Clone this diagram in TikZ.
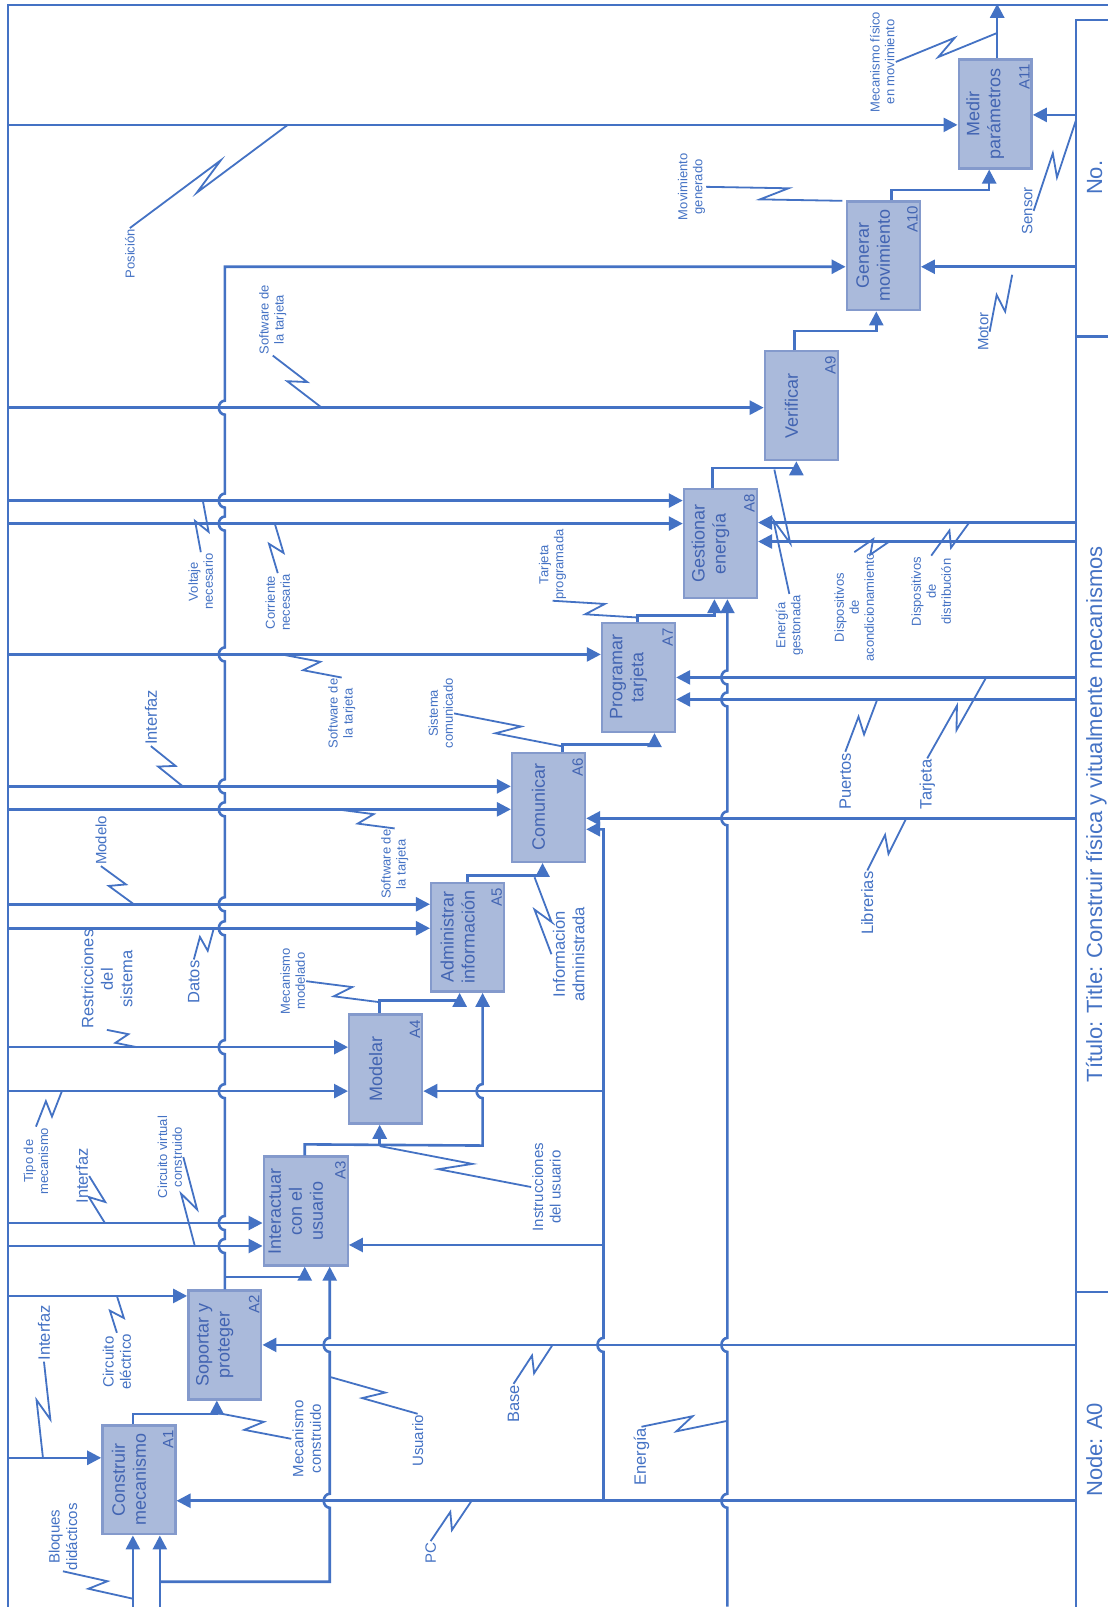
\documentclass[tikz,border=0pt]{standalone}
\usepackage{fontspec}
\setmainfont{Liberation Sans}
\usetikzlibrary{arrows.meta,calc}

\definecolor{idefblue}{RGB}{68,114,196}
\definecolor{boxfill}{RGB}{170,186,219}
\definecolor{boxedge}{RGB}{132,154,204}
\definecolor{boxink}{RGB}{66,100,178}

\tikzset{
  wire/.style={draw=idefblue, line width=2.6pt},
  flow/.style={wire, -{Triangle[length=14pt,width=14pt]}},
  feed/.style={wire, {Triangle[length=14pt,width=14pt]}-},
  zz/.style={draw=idefblue, line width=1.8pt,
    to path={-- ($(\tikztostart)!.6!(\tikztotarget)!7pt!90:(\tikztotarget)$)
             -- ($(\tikztostart)!.4!(\tikztotarget)!7pt!-90:(\tikztotarget)$)
             -- (\tikztotarget)}},
  box/.style={draw=boxedge, fill=boxfill, line width=2.4pt, minimum width=109pt, minimum height=73pt, inner sep=0pt},
  boxtxt/.style={text=boxink, font=\fontsize{18}{21}\selectfont, align=center, inner sep=0pt},
  boxnum/.style={text=boxink, font=\fontsize{15}{17}\selectfont, anchor=south east, inner sep=3pt, xshift=-3pt},
  lab/.style={text=idefblue, font=\fontsize{13}{15}\selectfont, align=center, inner sep=1pt},
  labm/.style={lab, font=\fontsize{15}{17.5}\selectfont},
  labb/.style={lab, font=\fontsize{16.5}{19.5}\selectfont},
  ttl/.style={text=idefblue, font=\fontsize{22}{24}\selectfont, anchor=base}
}

\begin{document}
\begin{tikzpicture}[x=1pt, y=1pt, rotate=90, transform shape]
    % sheet laid out lying down, then stood up
    \fill[white] (0,0) rectangle (1608,1109);

    % Frame and title strip
    \coordinate (ftop) at (0,1101);
    \coordinate (fbot) at (0,32);
    \draw[wire] (0,1101) -- (1603,1101) -- (1603,0);
    \draw[wire] (0,32) -- (1588,32) -- (1588,0);
    \draw[wire] (315,0) -- (315,32);
    \draw[wire] (1271,0) -- (1271,32);
    \node[ttl] (tNode) at (157,6) {Node: A0};
    \node[ttl] (tTitle) at (793,6) {Título: Title: Construir física y vitualmente mecanismos};
    \node[ttl] (tNo) at (1430,6) {No.};

    % Activities
    \node[box] (A1) at (127,970) {};
    \node[boxtxt] (A1t) at ([yshift=10pt]A1.center) {Construir\\mecanismo};
    \node[boxnum] (A1n) at (A1.south east) {A1};
    \node[box] (A2) at (262,884) {};
    \node[boxtxt] (A2t) at ([yshift=10pt]A2.center) {Soportar y\\proteger};
    \node[boxnum] (A2n) at (A2.south east) {A2};
    \node[box, minimum height=84pt] (A3) at (396,803) {};
    \node[boxtxt] (A3t) at ([yshift=10pt]A3.center) {Interactuar\\con el\\usuario};
    \node[boxnum] (A3n) at (A3.south east) {A3};
    \node[box] (A4) at (538,723) {};
    \node[boxtxt] (A4t) at ([yshift=10pt]A4.center) {Modelar};
    \node[boxnum] (A4n) at (A4.south east) {A4};
    \node[box] (A5) at (670,641) {};
    \node[boxtxt] (A5t) at ([yshift=10pt]A5.center) {Administrar\\información};
    \node[boxnum] (A5n) at (A5.south east) {A5};
    \node[box] (A6) at (800,560) {};
    \node[boxtxt] (A6t) at ([yshift=10pt]A6.center) {Comunicar};
    \node[boxnum] (A6n) at (A6.south east) {A6};
    \node[box] (A7) at (930,470) {};
    \node[boxtxt] (A7t) at ([yshift=10pt]A7.center) {Programar\\tarjeta};
    \node[boxnum] (A7n) at (A7.south east) {A7};
    \node[box] (A8) at (1064,388) {};
    \node[boxtxt] (A8t) at ([yshift=10pt]A8.center) {Gestionar\\energía};
    \node[boxnum] (A8n) at (A8.south east) {A8};
    \node[box] (A9) at (1202,307) {};
    \node[boxtxt] (A9t) at ([yshift=10pt]A9.center) {Verificar};
    \node[boxnum] (A9n) at (A9.south east) {A9};
    \node[box] (A10) at (1352,225) {};
    \node[boxtxt] (A10t) at ([yshift=10pt]A10.center) {Generar\\movimiento};
    \node[boxnum] (A10n) at (A10.south east) {A10};
    \node[box] (A11) at (1494,113) {};
    \node[boxtxt] (A11t) at ([yshift=10pt]A11.center) {Medir\\parámetros};
    \node[boxnum] (A11n) at (A11.south east) {A11};

    % Controls coming down from the frame
    \foreach \b/\s in {A1/22,A2/49,A3/-12,A3/-35,A4/22,A4/-22,A5/33,A5/9,A6/21,A6/-2,A7/23,A8/43,A8/20,A9/-2,A11/-11} {
        \coordinate (p) at ([xshift=\s pt]\b.north);
        \draw[feed] (p) -- (p |- ftop);
    }
    % Mechanisms coming up from the title strip
    \foreach \b/\s in {A1/-21,A2/0,A6/-11,A7/0,A7/-22,A8/21,A8/2,A10/-11,A11/-1} {
        \coordinate (p) at ([xshift=\s pt]\b.south);
        \draw[feed] (p) -- (p |- fbot);
    }

    % Inputs from the left edge
    \draw[flow] (0,976) -- ([yshift=6pt]A1.west);
    \draw[flow] (0,949) -- ([yshift=-21pt]A1.west);
    \draw[flow] (25,949) -- (25,779) \foreach \c in {106,262} {-- ({\c-7},779) arc[start angle=180, end angle=0, x radius=7, y radius=6]} -- ([yshift=-24pt]A3.west);
    \draw[flow] (0,381) \foreach \c in {106,262,789,908,930} {-- ({\c-7},381) arc[start angle=180, end angle=0, x radius=7, y radius=6]} -- ([yshift=-7pt]A8.west);

    % PC branches
    \draw[flow] (106,505) \foreach \c in {262} {-- ({\c-7},505) arc[start angle=180, end angle=0, x radius=7, y radius=6]} -- (778,505) -- ([xshift=-22pt]A6.south);
    \draw[flow] (362,505) -- ([xshift=-34pt]A3.south);
    \draw[flow] (516,505) -- ([xshift=-22pt]A4.south);

    % Outputs between activities
    \draw[flow] ([yshift=6pt]A1.east) -- ++(10,0) |- ([yshift=8pt]A2.west);
    \draw[flow] (A2.east) \foreach \c in {361,384,516,560,679,703,798,821,953,1084,1107,1200} {-- ({\c-7},884) arc[start angle=180, end angle=0, x radius=7, y radius=6]} -- (1341,884) -- ([xshift=-11pt]A10.north);
    \draw[flow] (330,884) |- ([yshift=1pt]A3.west);
    \draw[flow] ([yshift=1pt]A3.east) -- ++(11,0) -- (461.5,626) \foreach \c in {516} {-- ({\c-7},626) arc[start angle=180, end angle=0, x radius=7, y radius=6]} -- ([yshift=-15pt]A5.west);
    \draw[flow] (461.5,729) -- ([yshift=6pt]A4.west);
    \draw[flow] ([yshift=6pt]A4.east) -- ++(13,0) |- ([yshift=8pt]A5.west);
    \draw[flow] (A5.east) -- ++(6,0) |- ([yshift=6pt]A6.west);
    \draw[flow] ([yshift=-14pt]A6.east) -- ++(7,0) |- ([yshift=-16pt]A7.west);
    \draw[flow] ([yshift=1pt]A7.east) -- ++(6,0) |- ([yshift=6pt]A8.west);
    \draw[flow] ([yshift=8pt]A8.east) -- ++(20,0) |- ([yshift=5pt]A9.west);
    \draw[flow] ([yshift=7pt]A9.east) -- ++(19,0) |- ([yshift=7pt]A10.west);
    \draw[flow] ([yshift=-8pt]A10.east) -- ++(10,0) |- ([yshift=6pt]A11.west);
    \draw[flow] ([yshift=-2pt]A11.east) -- ++(54.5,0);

    % Labels on the controls
    \node[lab] (lPos) at (1354,979) {Posición};
    \draw[zz] (lPos.east) to (1483,821);
    \node[lab] (lSw1) at (1288,836) {Software de\\la tarjeta};
    \draw[zz] (lSw1.west) to (1200,787);
    \node[lab] (lVolt) at (1026,908) {Voltaje\\necesario};
    \draw[zz] (lVolt.east) to (1107,906);
    \node[lab] (lCorr) at (1005,831) {Corriente\\necesaria};
    \draw[zz] (lCorr.east) to (1084,834);
    \node[lab] (lSw2) at (894,767) {Software de\\la tarjeta};
    \draw[zz] (lSw2.east) to (953,827);
    \node[labb] (lIf6) at (890,958) {Interfaz};
    \draw[zz] (lIf6.west) to (821,926);
    \node[lab] (lSw3) at (743,714) {Software de\\la tarjeta};
    \draw[zz] (lSw3.east) to (798,772);
    \node[labm] (lMod) at (767,1008) {Modelo};
    \draw[zz] (lMod.west) to (703,975);
    \node[labb] (lDat) at (625,915) {Datos};
    \draw[zz] (lDat.east) to (679,895);
    \node[labb] (lRes) at (628,1002) {Restricciones\\del\\sistema};
    \draw[zz] (lRes.west) to (560,972);
    \node[lab] (lTipo) at (446,1073) {Tipo de\\mecanismo};
    \draw[zz] (lTipo.east) to (516,1047);
    \node[labb] (lIf3) at (431,1027) {Interfaz};
    \draw[zz] (lIf3.south) to (384,1004);
    \node[lab] (lCvc) at (450,939) {Circuito virtual\\construido};
    \draw[zz] (lCvc.south) to (361,914);
    \node[labm] (lCel) at (245,992) {Circuito\\eléctrico};
    \draw[zz] (lCel.east) to (311,992);
    \node[labb] (lIf1) at (274,1065) {Interfaz};
    \draw[zz] (lIf1.west) to (149,1066);

    % Labels on the inputs
    \node[labm] (lBloq) at (70,1046) {Bloques\\didácticos};
    \draw[zz] (lBloq.west) to (8,976);
    \node[labm] (lUsu) at (166,691) {Usuario};
    \draw[zz] (lUsu.east) to (230,779);
    \node[labb] (lEne) at (150,467) {Energía};
    \draw[zz] (lEne.east) to (186,381);

    % Labels on the outputs
    \node[labm] (lMcon) at (168,802) {Mecanismo\\construido};
    \draw[zz] (lMcon.north) to (194,892);
    \node[labm] (lInstr) at (420,562) {Instrucciones\\del usuario};
    \draw[zz] (lInstr.north) to (461,729);
    \node[lab] (lMmod) at (626,816) {Mecanismo\\modelado};
    \draw[zz] (lMmod.south) to (605,729);
    \node[labb] (lInf) at (653,540) {Información\\administrada};
    \draw[zz] (lInf.north) to (730,574);
    \node[lab] (lSisc) at (894,668) {Sistema\\comunicado};
    \draw[zz] (lSisc.south) to (861,546);
    \node[lab] (lTprog) at (1043,556) {Tarjeta\\programada};
    \draw[zz] (lTprog.west) to (990,471);
    \node[lab] (lEgest) at (982,319) {Energía\\gestonada};
    \draw[zz] (lEgest.east) to (1138,334);
    \node[lab] (lMovg) at (1421,417) {Movimiento\\generado};
    \draw[zz] (lMovg.south) to (1407,266);
    \node[lab] (lMfis) at (1546,226) {Mecanismo físico\\en movimiento};
    \draw[zz] (lMfis.south) to (1575,111);

    % Labels on the mechanisms
    \node[labm] (lPC) at (54,678) {PC};
    \draw[zz] (lPC.east) to (106,637);
    \node[labb] (lBase) at (203,595) {Base};
    \draw[zz] (lBase.east) to (262,556);
    \node[labb] (lLib) at (704,241) {Librerias};
    \draw[zz] (lLib.east) to (789,202);
    \node[labb] (lPuer) at (826,263) {Puertos};
    \draw[zz] (lPuer.east) to (908,231);
    \node[labb] (lTarj) at (823,181) {Tarjeta};
    \draw[zz] (lTarj.east) to (930,122);
    \node[lab] (lDacond) at (1000,254) {Dispositivos\\de\\acondicionamiento};
    \draw[zz] (lDacond.east) to (1066,219);
    \node[lab] (lDdist) at (1016,177) {Dispositivos\\de\\distribución};
    \draw[zz] (lDdist.east) to (1085,139);
    \node[labm] (lMot) at (1276,125) {Motor};
    \draw[zz] (lMot.south) to (1333,96);
    \node[labm] (lSen) at (1397,81) {Sensor};
    \draw[zz] (lSen.south) to (1488,32);
\end{tikzpicture}
\end{document}
